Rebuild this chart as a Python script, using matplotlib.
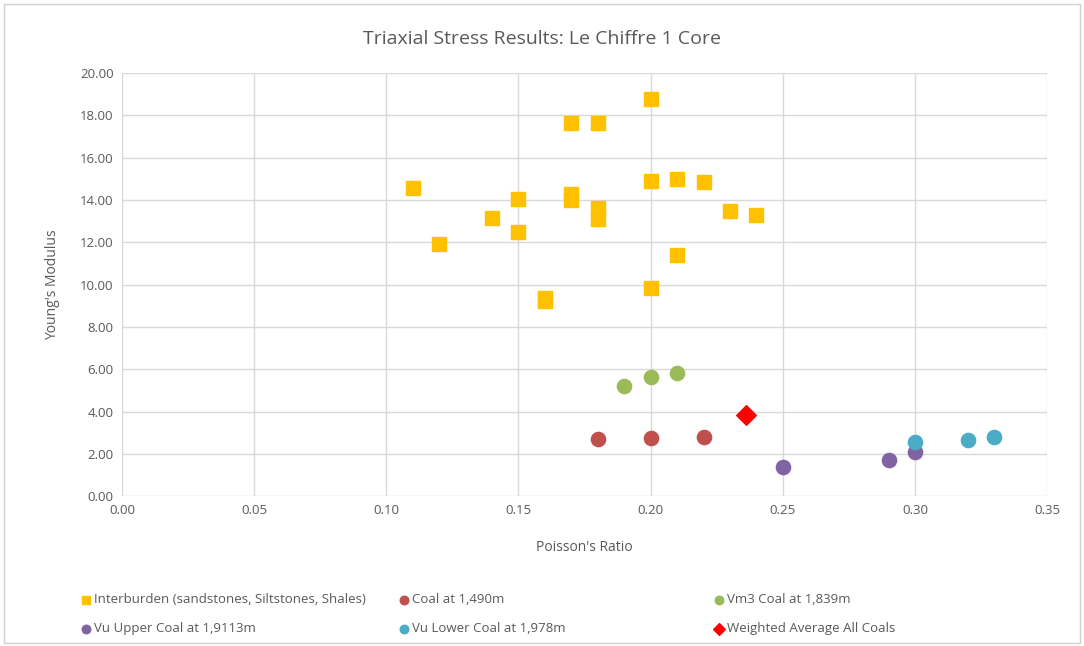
import matplotlib.pyplot as plt
from matplotlib.patches import Rectangle

plt.rcParams["font.family"] = ["Open Sans", "DejaVu Sans"]

TEXT = "#595959"
GRID = "#d9d9d9"

inter_x = [0.11, 0.12, 0.14, 0.15, 0.15, 0.16, 0.16, 0.17, 0.17, 0.17, 0.18, 0.18, 0.18,
           0.20, 0.20, 0.20, 0.21, 0.21, 0.22, 0.23, 0.24]
inter_y = [14.55, 11.9, 13.15, 14.05, 12.5, 9.2, 9.35, 17.65, 14.0, 14.3, 17.65, 13.6, 13.1,
           18.75, 14.9, 9.85, 15.0, 11.4, 14.85, 13.5, 13.3]

coal1490_x = [0.18, 0.20, 0.22]
coal1490_y = [2.7, 2.75, 2.8]

vm3_x = [0.19, 0.20, 0.21]
vm3_y = [5.2, 5.65, 5.8]

vu_upper_x = [0.25, 0.29, 0.30]
vu_upper_y = [1.4, 1.7, 2.1]

vu_lower_x = [0.30, 0.32, 0.33]
vu_lower_y = [2.55, 2.65, 2.8]

avg_x = [0.236]
avg_y = [3.85]

x_ticks = [0.00, 0.05, 0.10, 0.15, 0.20, 0.25, 0.30, 0.35]
y_ticks = [0, 2, 4, 6, 8, 10, 12, 14, 16, 18, 20]

fig = plt.figure(figsize=(10.84, 6.46), dpi=100)
ax = fig.add_axes([0.1125, 0.232, 0.8535, 0.655])

# light frame round the whole chart
fig.patches.append(Rectangle((0.004, 0.004), 0.992, 0.99, transform=fig.transFigure,
                             fill=False, edgecolor="#d0d0d0", linewidth=1.0))

h_inter = ax.scatter(inter_x, inter_y, marker="s", s=115, color="#FFC000", zorder=3,
                     label="Interburden (sandstones, Siltstones, Shales)")
h_coal = ax.scatter(coal1490_x, coal1490_y, marker="o", s=105, color="#C0504D", zorder=3,
                    label="Coal at 1,490m")
h_vm3 = ax.scatter(vm3_x, vm3_y, marker="o", s=105, color="#9BBB59", zorder=3,
                   label="Vm3 Coal at 1,839m")
h_up = ax.scatter(vu_upper_x, vu_upper_y, marker="o", s=105, color="#8064A2", zorder=3,
                  label="Vu Upper Coal at 1,9113m")
h_low = ax.scatter(vu_lower_x, vu_lower_y, marker="o", s=105, color="#4BACC6", zorder=3,
                   label="Vu Lower Coal at 1,978m")
h_avg = ax.scatter(avg_x, avg_y, marker="D", s=100, color="#FF0000", zorder=4,
                   label="Weighted Average All Coals")

ax.set_xlim(0, 0.35)
ax.set_ylim(0, 20)
ax.set_xticks(x_ticks)
ax.set_yticks(y_ticks)
ax.set_xticklabels([f"{v:.2f}" for v in x_ticks])
ax.set_yticklabels([f"{v:.2f}" for v in y_ticks])
ax.grid(True, color=GRID, linewidth=1.0)
ax.set_axisbelow(True)
for sp in ax.spines.values():
    sp.set_visible(False)
ax.tick_params(length=0, labelsize=9.5, colors=TEXT, pad=6)

ax.set_xlabel("Poisson's Ratio", fontsize=10, color=TEXT, labelpad=16)
ax.set_ylabel("Young's Modulus", fontsize=10, color=TEXT, labelpad=14)
fig.text(0.5, 0.94, "Triaxial Stress Results: Le Chiffre 1 Core", ha="center", va="center",
         fontsize=14, color=TEXT)

columns = [
    ([h_inter, h_up], 0.068),
    ([h_coal, h_low], 0.362),
    ([h_vm3, h_avg], 0.652),
]
for handles, xpos in columns:
    leg = fig.legend(handles=handles, loc="upper left", bbox_to_anchor=(xpos, 0.09),
                     frameon=False, fontsize=9.5, handletextpad=0.1, handlelength=1.0,
                     labelspacing=1.2, markerscale=0.6, borderaxespad=0)
    for t in leg.get_texts():
        t.set_color(TEXT)

fig.savefig("out.png", dpi=100)
